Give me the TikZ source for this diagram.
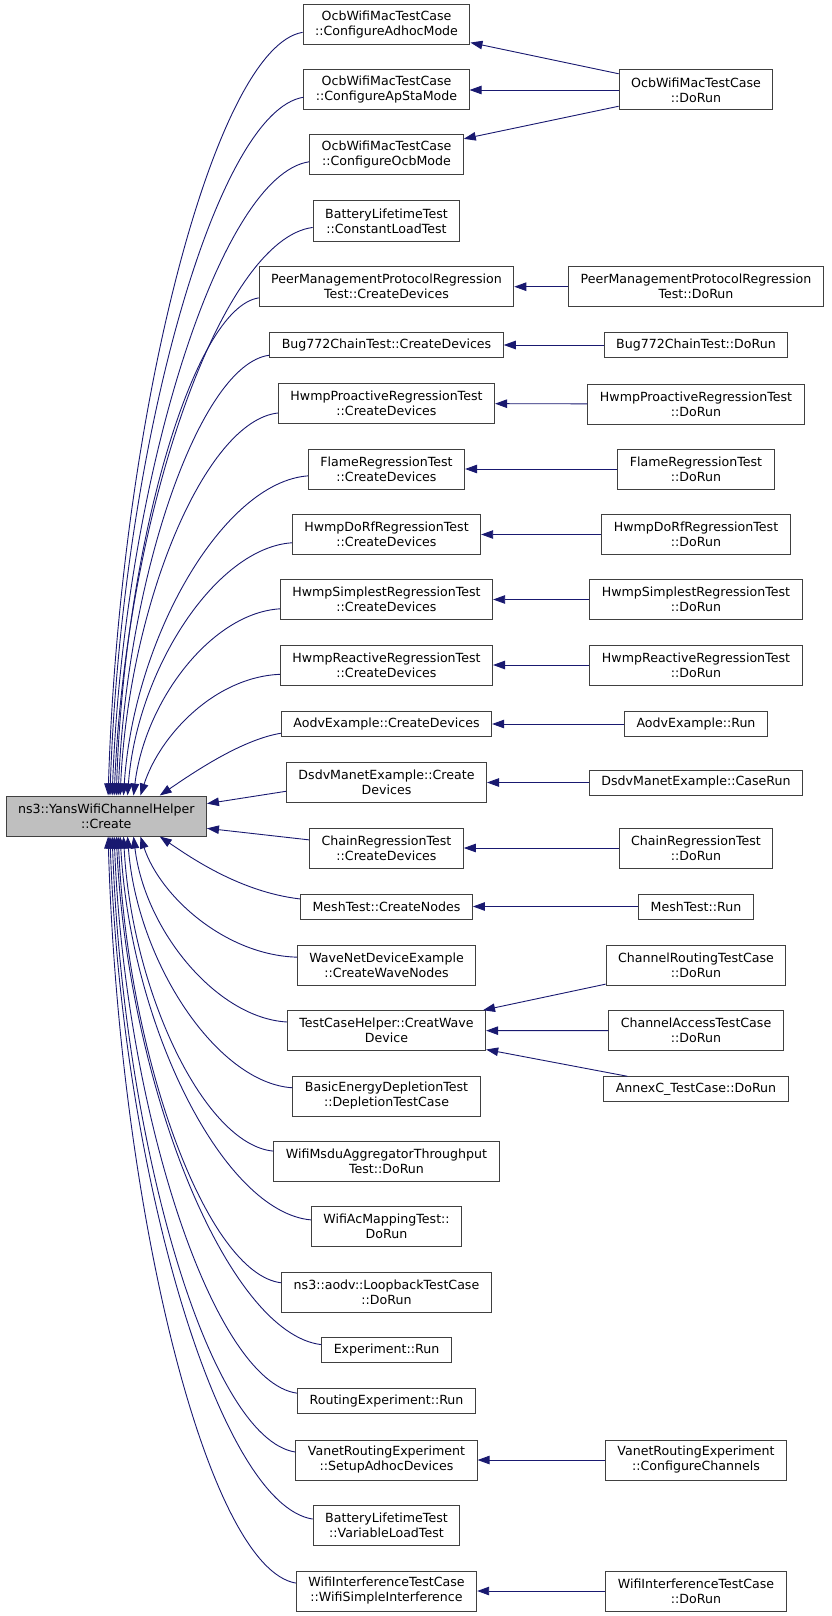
\documentclass[tikz,border=0pt]{standalone}
\usepackage{fontspec}
\setmainfont{DejaVu Sans}
\usepackage{xcolor}
\usepackage{tikz}
\usetikzlibrary{arrows.meta}
\definecolor{callblue}{HTML}{191970}
\definecolor{mainfill}{HTML}{BFBFBF}
\definecolor{frame}{HTML}{404040}
\tikzset{
  func/.style={
    draw=frame,
    line width=1pt,
    fill=white,
    align=center,
    font=\fontsize{12.6}{15}\selectfont,
    inner xsep=12pt,
    inner ysep=4pt,
    minimum height=25pt
  },
  func2/.style={func, minimum height=40pt},
  target/.style={func2, fill=mainfill},
  call/.style={
    draw=callblue,
    line width=0.9pt,
    -{Triangle[length=12pt, width=8.5pt]}
  }
}

\begin{document}
\begin{tikzpicture}[x=1pt, y=-1pt]
  \useasboundingbox (0,0) rectangle (832,1616);

  % Called function
  \node[target] (main) at (106.3, 816) {ns3::YansWifiChannelHelper\\::Create};

  % Direct callers
  \node[func2] (adhoc) at (386.5, 25) {OcbWifiMacTestCase\\::ConfigureAdhocMode};
  \node[func2] (apsta) at (386.5, 90) {OcbWifiMacTestCase\\::ConfigureApStaMode};
  \node[func2] (ocbmode) at (386.5, 155) {OcbWifiMacTestCase\\::ConfigureOcbMode};
  \node[func2] (constload) at (386.5, 221) {BatteryLifetimeTest\\::ConstantLoadTest};
  \node[func2] (pmpcreate) at (386.5, 286.7) {PeerManagementProtocolRegression\\Test::CreateDevices};
  \node[func] (bugcreate) at (386.5, 345) {Bug772ChainTest::CreateDevices};
  \node[func2] (proactive) at (386.5, 403.5) {HwmpProactiveRegressionTest\\::CreateDevices};
  \node[func2] (flame) at (386.5, 469) {FlameRegressionTest\\::CreateDevices};
  \node[func2] (dorf) at (386.5, 534.5) {HwmpDoRfRegressionTest\\::CreateDevices};
  \node[func2] (simplest) at (386.5, 599.5) {HwmpSimplestRegressionTest\\::CreateDevices};
  \node[func2] (reactive) at (386.5, 665) {HwmpReactiveRegressionTest\\::CreateDevices};
  \node[func] (aodvcreate) at (386.5, 724) {AodvExample::CreateDevices};
  \node[func2] (dsdvcreate) at (386.5, 782.5) {DsdvManetExample::Create\\Devices};
  \node[func2] (chaincreate) at (386.5, 848) {ChainRegressionTest\\::CreateDevices};
  \node[func] (meshcreate) at (386.5, 906.5) {MeshTest::CreateNodes};
  \node[func2] (wavenodes) at (386.5, 965) {WaveNetDeviceExample\\::CreateWaveNodes};
  \node[func2] (creatwave) at (386.5, 1030.7) {TestCaseHelper::CreatWave\\Device};
  \node[func2] (depletion) at (386.5, 1096) {BasicEnergyDepletionTest\\::DepletionTestCase};
  \node[func2] (msdu) at (386.5, 1161) {WifiMsduAggregatorThroughput\\Test::DoRun};
  \node[func2] (acmapping) at (386.5, 1226.5) {WifiAcMappingTest::\\DoRun};
  \node[func2] (loopback) at (386.5, 1292) {ns3::aodv::LoopbackTestCase\\::DoRun};
  \node[func] (experiment) at (386.5, 1350.3) {Experiment::Run};
  \node[func] (routingexp) at (386.5, 1401) {RoutingExperiment::Run};
  \node[func2] (vanetsetup) at (386.5, 1460) {VanetRoutingExperiment\\::SetupAdhocDevices};
  \node[func2] (varload) at (386.5, 1525.5) {BatteryLifetimeTest\\::VariableLoadTest};
  \node[func2] (simpleinterf) at (386.5, 1591) {WifiInterferenceTestCase\\::WifiSimpleInterference};

  % Second level callers
  \node[func2] (ocbdorun) at (696, 90) {OcbWifiMacTestCase\\::DoRun};
  \node[func2] (pmpdorun) at (696, 286.7) {PeerManagementProtocolRegression\\Test::DoRun};
  \node[func] (bugdorun) at (696, 345) {Bug772ChainTest::DoRun};
  \node[func2] (proactivedorun) at (696, 404) {HwmpProactiveRegressionTest\\::DoRun};
  \node[func2] (flamedorun) at (696, 469) {FlameRegressionTest\\::DoRun};
  \node[func2] (dorfdorun) at (696, 534.5) {HwmpDoRfRegressionTest\\::DoRun};
  \node[func2] (simplestdorun) at (696, 599.5) {HwmpSimplestRegressionTest\\::DoRun};
  \node[func2] (reactivedorun) at (696, 665) {HwmpReactiveRegressionTest\\::DoRun};
  \node[func] (aodvrun) at (696, 724) {AodvExample::Run};
  \node[func] (dsdvrun) at (696, 782.5) {DsdvManetExample::CaseRun};
  \node[func2] (chaindorun) at (696, 848) {ChainRegressionTest\\::DoRun};
  \node[func] (meshrun) at (696, 906.5) {MeshTest::Run};
  \node[func2] (chanrouting) at (696, 965) {ChannelRoutingTestCase\\::DoRun};
  \node[func2] (chanaccess) at (696, 1030.5) {ChannelAccessTestCase\\::DoRun};
  \node[func] (annexc) at (696, 1089.3) {AnnexC\_TestCase::DoRun};
  \node[func2] (vanetconf) at (696, 1460) {VanetRoutingExperiment\\::ConfigureChannels};
  \node[func2] (interfdorun) at (696, 1591) {WifiInterferenceTestCase\\::DoRun};

  % Calls into Create (upper half)
  \draw[call] (adhoc.185) .. controls (215,47) and (120,414) .. (main.85);
  \draw[call] (apsta.185) .. controls (216,111) and (122,446) .. (main.80);
  \draw[call] (ocbmode.185) .. controls (220,175) and (124,479) .. (main.74);
  \draw[call] (constload.185) .. controls (222,239) and (126,512) .. (main.69);
  \draw[call] (pmpcreate.185) .. controls (193,308) and (124,547) .. (main.64);
  \draw[call] (bugcreate.185) .. controls (200,364) and (127,576) .. (main.60);
  \draw[call] (proactive.185) .. controls (205,421) and (129,604) .. (main.56);
  \draw[call] (flame.185) .. controls (224,482) and (134,636) .. (main.50);
  \draw[call] (dorf.185) .. controls (216,548) and (137,669) .. (main.44);
  \draw[call] (simplest.185) .. controls (212,613) and (145,700) .. (main.37);
  \draw[call] (reactive.185) .. controls (215,677) and (160,735) .. (main.31);
  \draw[call] (aodvcreate.185) .. controls (240,740) and (190,775) .. (main.21);
  \draw[call] (dsdvcreate.185) -- (main.7);

  % Calls into Create (lower half)
  \draw[call] (chaincreate.174) -- (main.-7);
  \draw[call] (meshcreate.175) .. controls (240,892) and (190,857) .. (main.-21);
  \draw[call] (wavenodes.175) .. controls (225,955) and (160,896) .. (main.-31);
  \draw[call] (creatwave.175) .. controls (217,1018) and (145,931) .. (main.-37);
  \draw[call] (depletion.175) .. controls (217,1083) and (137,962) .. (main.-44);
  \draw[call] (msdu.175) .. controls (205,1145) and (132,993) .. (main.-50);
  \draw[call] (acmapping.175) .. controls (224,1212) and (131,1028) .. (main.-56);
  \draw[call] (loopback.175) .. controls (207,1274) and (128,1059) .. (main.-60);
  \draw[call] (experiment.175) .. controls (229,1334) and (128,1090) .. (main.-64);
  \draw[call] (routingexp.175) .. controls (214,1382) and (125,1114) .. (main.-69);
  \draw[call] (vanetsetup.175) .. controls (209,1439) and (123,1144) .. (main.-74);
  \draw[call] (varload.175) .. controls (220,1505) and (122,1177) .. (main.-80);
  \draw[call] (simpleinterf.175) .. controls (207,1568) and (119,1209) .. (main.-85);

  % Second level edges
  \draw[call] (ocbdorun) -- (adhoc);
  \draw[call] (ocbdorun) -- (apsta);
  \draw[call] (ocbdorun) -- (ocbmode);
  \draw[call] (pmpdorun) -- (pmpcreate);
  \draw[call] (bugdorun) -- (bugcreate);
  \draw[call] (proactivedorun) -- (proactive);
  \draw[call] (flamedorun) -- (flame);
  \draw[call] (dorfdorun) -- (dorf);
  \draw[call] (simplestdorun) -- (simplest);
  \draw[call] (reactivedorun) -- (reactive);
  \draw[call] (aodvrun) -- (aodvcreate);
  \draw[call] (dsdvrun) -- (dsdvcreate);
  \draw[call] (chaindorun) -- (chaincreate);
  \draw[call] (meshrun) -- (meshcreate);
  \draw[call] (chanrouting) -- (creatwave);
  \draw[call] (chanaccess) -- (creatwave);
  \draw[call] (annexc) -- (creatwave);
  \draw[call] (vanetconf) -- (vanetsetup);
  \draw[call] (interfdorun) -- (simpleinterf);
\end{tikzpicture}
\end{document}
